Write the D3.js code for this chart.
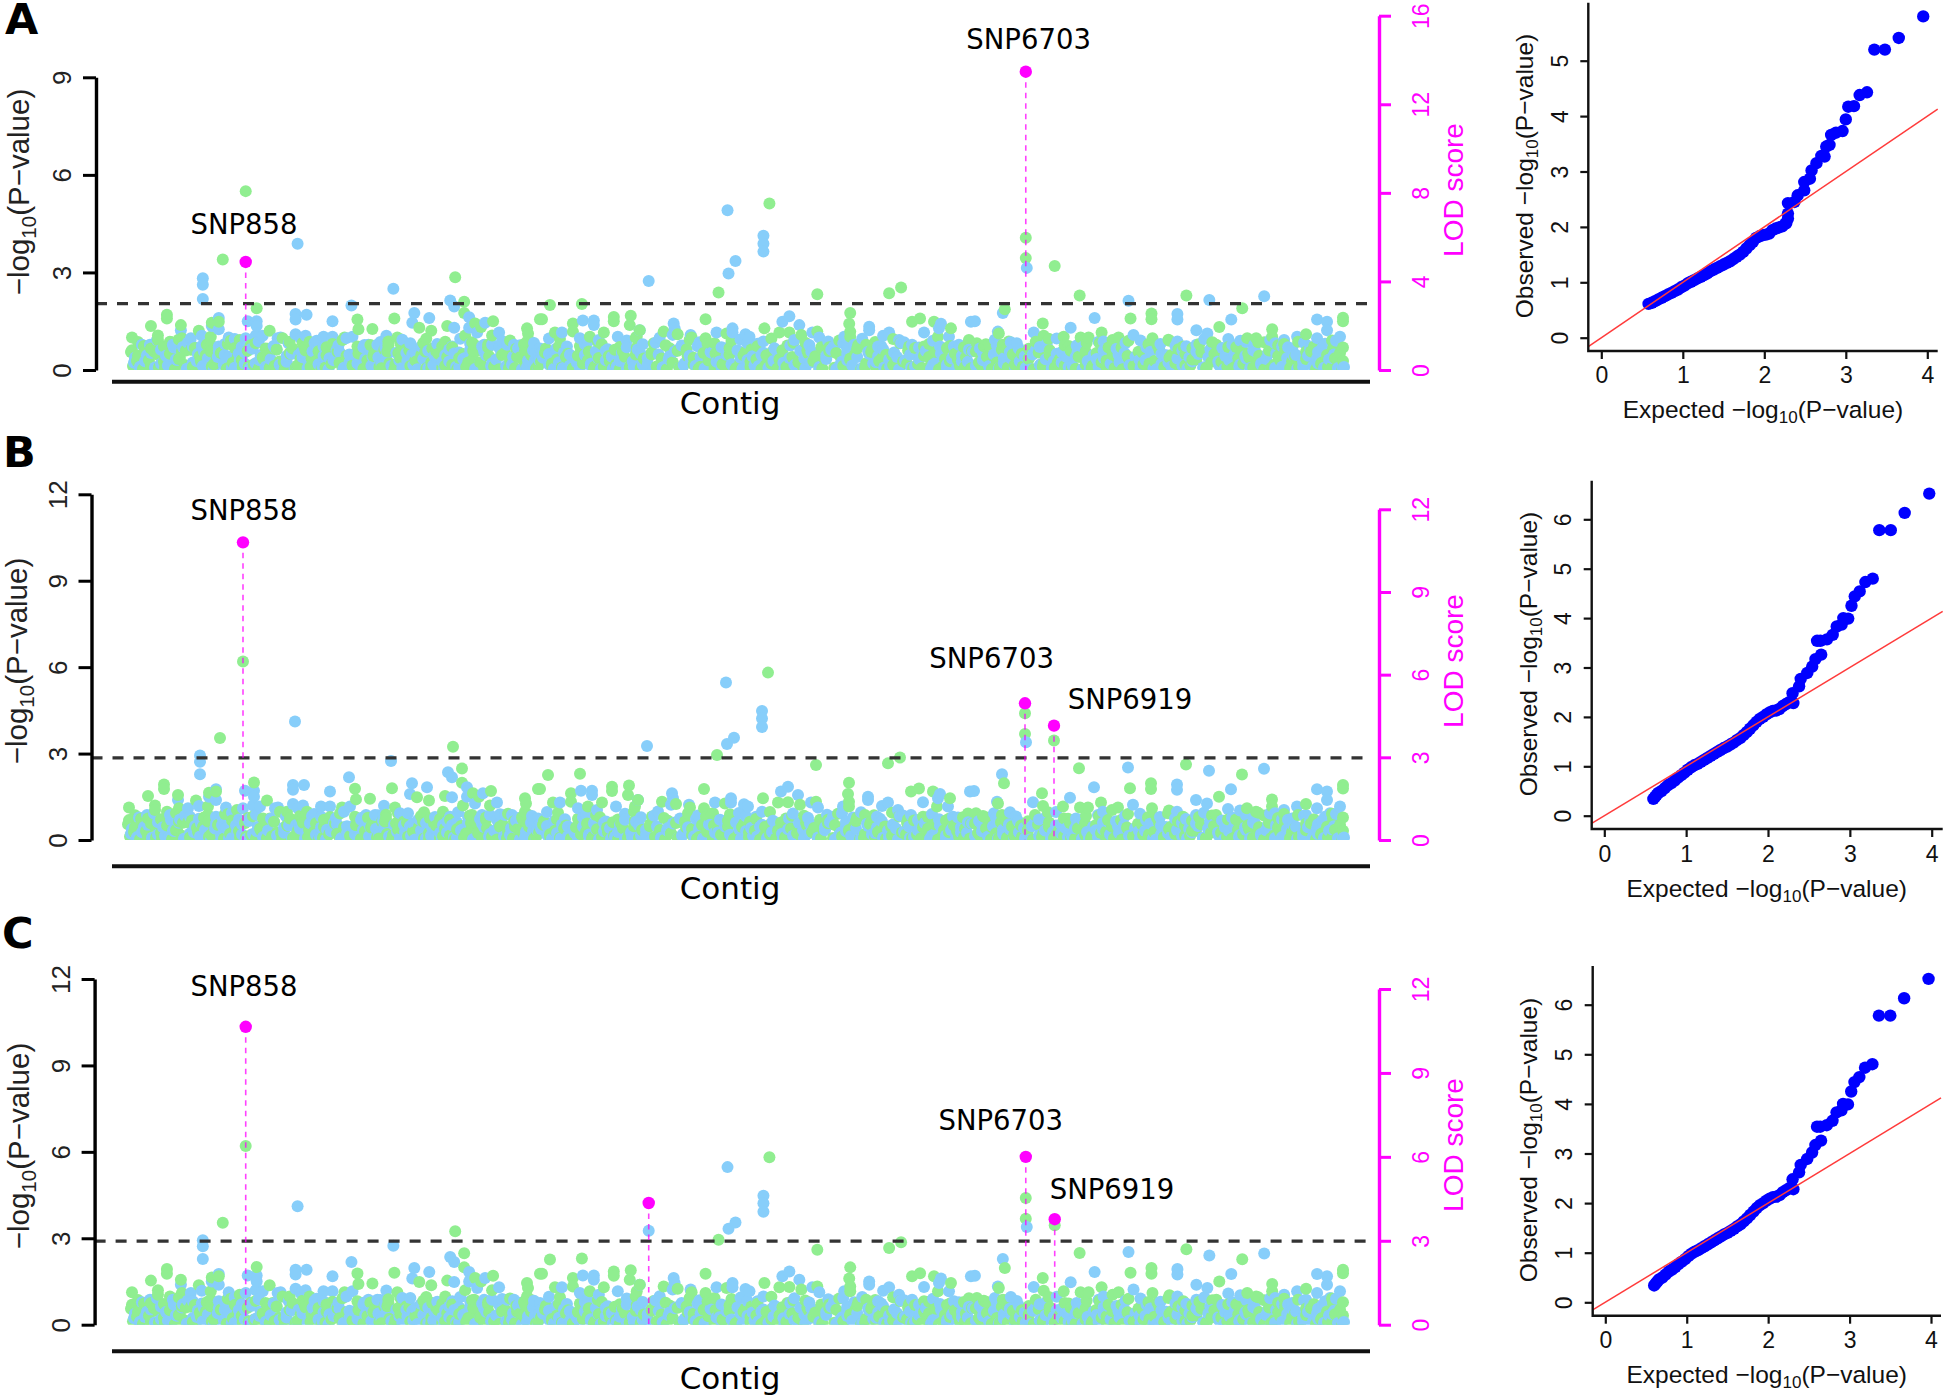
<!DOCTYPE html>
<html><head><meta charset="utf-8">
<script src="https://cdn.jsdelivr.net/npm/d3@7/dist/d3.min.js"></script>
<style>html,body{margin:0;padding:0;background:#fff}svg{display:block}</style>
</head><body><svg id="c" width="1944" height="1397"></svg>
<script>
// Contig-order position of each marker; values per panel.
const bluePos=[167,72,72,72,263,320,324,221,284,282,
299,176,165,165,202,339,339,355,347,324,
50,88,81,88,117,126,126,125,132,150,
147,165,175,170,193,202,193,222,256,280,
238,247,255,19,4,42,60,62,71,88,
98,94,115,115,122,168,322,315,329,354,
362,369,377,384,410,409,285,242,519,634,
634,634,606,599,660,653,670,812,810,795,
820,740,740,760,754,770,453,464,464,510,
432,544,545,543,488,587,603,603,616,620,
634,683,690,561,450,469,715,714,705,749,
783,825,842,898,874,846,869,1000,1081,1136,
966,1049,1049,1103,1068,1079,1100,1189,1199,1199,
1189,1212,1169,1156,905,942,882,1005,975,1049,
1068,1112,1147,1164,1178,1202,1165,1189,598];
const blueB=[4.11,2.93,2.72,2.28,2.74,2.35,2.18,2.18,1.97,1.60,
1.83,1.91,1.91,1.74,1.68,1.83,1.50,1.62,1.27,1.48,
1.39,1.76,1.50,1.39,1.71,1.71,1.50,1.20,1.16,1.13,
1.10,1.25,1.20,1.10,1.16,1.16,.81,1.16,1.19,.93,
.87,.87,.87,.87,.35,.87,1.10,.81,1.18,.81,
1.13,.52,1.10,.64,.75,.52,.81,.52,.61,.87,
.87,1.30,.87,.87,.75,.35,.58,.46,3.26,4.48,
4.22,3.92,3.55,3.33,1.85,1.68,1.56,1.60,1.45,1.31,
1.16,1.50,1.39,1.30,1.18,1.04,1.71,1.71,1.56,1.39,
1.30,1.62,1.45,1.22,1.16,1.30,1.45,1.30,1.24,1.16,
.98,1.30,1.13,1.22,1.10,1.04,1.16,.93,.81,.81,
.87,.81,1.68,3.39,2.28,1.70,1.33,2.52,2.40,2.47,
1.83,1.93,1.74,1.76,1.39,1.27,1.08,1.76,1.68,1.39,
1.10,1.16,1.16,1.04,1.31,1.47,.96,1.22,.98,.98,
.87,1.02,.93,.75,.87,.93,.52,.40,5.47];
const blueA=[3.88,2.82,2.62,2.18,2.50,2.14,1.95,1.98,1.75,1.45,
1.60,1.70,1.72,1.55,1.50,1.62,1.30,1.45,1.15,1.30,
1.22,1.60,1.35,1.25,1.50,1.50,1.35,1.05,1.05,1.00,
.98,1.10,1.05,.98,1.02,1.02,.72,1.02,1.05,.82,
.78,.78,.78,.78,.32,.78,.98,.72,1.05,.72,
1.00,.46,.98,.57,.66,.46,.72,.46,.54,.78,
.78,1.15,.78,.78,.66,.31,.52,.41,2.74,4.13,
3.88,3.64,3.35,2.97,1.65,1.48,1.38,1.42,1.28,1.15,
1.02,1.33,1.22,1.15,1.05,.92,1.52,1.52,1.38,1.22,
1.15,1.43,1.28,1.08,1.02,1.15,1.28,1.15,1.10,1.02,
.88,1.15,1.00,1.08,.98,.92,1.02,.82,.72,.72,
.78,.72,1.48,3.14,1.75,1.50,1.18,2.13,2.15,2.27,
1.60,1.72,1.55,1.55,1.22,1.12,.95,1.55,1.48,1.22,
.98,1.02,1.02,.92,1.15,1.30,.85,1.08,.88,.88,
.78,.90,.82,.66,.78,.82,.46,.36,4.91];

const greenPos=[92,325,334,126,36,36,227,228,264,334,
363,345,351,335,317,410,397,398,289,301,
242,20,50,68,81,88,139,1,1,179,
214,267,270,227,27,27,20,14,39,51,
52,51,80,80,80,97,109,142,135,159,
162,315,302,295,344,362,397,395,387,257,
268,115,589,688,760,772,420,452,721,720,
721,721,791,783,805,822,484,484,501,500,
510,507,443,443,425,412,534,548,474,576,
597,635,650,660,672,688,562,576,585,460,
737,795,809,835,640,897,897,926,876,870,
951,1058,1114,1091,1215,1215,1178,1144,1144,914,
915,935,973,952,960,848,874,855,990,984,
1024,1041,1055,1088,1119,1130,1156,1215,1215,1205,
1002,1023,1023];
const greenB=[3.54,3.24,2.48,2.00,1.93,1.77,1.78,1.41,1.80,1.99,
1.70,1.62,1.50,1.20,1.53,1.77,1.45,1.27,1.48,1.37,
1.43,1.53,1.56,1.37,1.64,1.68,1.37,1.13,.69,.98,
1.13,1.13,.93,.81,1.20,1.04,.75,.64,.98,1.10,
.87,.64,1.16,.87,.64,.90,1.04,.75,.75,.98,
.75,.98,.75,.64,.87,1.20,.98,.69,.46,.64,
.58,6.20,2.95,2.60,2.66,2.86,2.26,2.30,1.99,1.60,
1.33,1.16,1.79,1.68,1.68,1.45,1.85,1.70,1.89,1.56,
1.39,1.16,1.62,1.33,1.30,1.77,1.33,1.25,1.30,1.77,
1.27,1.45,1.30,1.31,1.22,1.33,1.13,1.10,.93,1.16,
.87,.81,1.16,.79,5.81,4.40,3.68,3.45,1.97,1.27,
2.49,2.62,2.27,1.50,1.91,1.79,1.25,1.41,1.16,1.62,
1.18,1.16,1.30,1.13,1.13,.93,.87,.83,1.13,1.04,
1.10,1.02,.81,.87,1.10,.95,.90,.78,.32,.75,
1.80,1.97,1.77];
const greenA=[3.40,2.85,2.10,1.90,1.70,1.58,1.55,1.25,1.58,1.75,
1.50,1.43,1.32,1.06,1.35,1.56,1.28,1.12,1.30,1.21,
1.26,1.35,1.38,1.21,1.45,1.48,1.21,1.00,.61,.87,
1.00,1.00,.82,.72,1.06,.92,.66,.57,.87,.98,
.78,.57,1.02,.78,.57,.80,.92,.66,.66,.87,
.66,.87,.66,.57,.78,1.06,.87,.61,.41,.57,
.52,5.50,2.38,2.33,2.36,2.54,2.00,2.03,1.75,1.42,
1.18,1.02,1.58,1.48,1.48,1.28,1.63,1.50,1.67,1.38,
1.22,1.02,1.43,1.18,1.15,1.56,1.18,1.10,1.15,1.56,
1.12,1.28,1.15,1.15,1.08,1.18,1.00,.98,.82,1.02,
.78,.72,1.02,.70,5.12,4.07,3.44,3.20,1.87,1.12,
2.29,2.29,1.90,1.32,1.61,1.50,1.10,1.25,1.02,1.43,
1.05,1.02,1.15,1.00,1.00,.82,.78,.73,1.00,.92,
.98,.90,.72,.78,.98,.85,.80,.69,.28,.66,
1.58,1.74,1.56];

// Dense low band near zero, same in all panels at the reading precision of the picture.
const blueLowPos=[3,9,16,24,30,37,45,52,58,66,73,79,87,94,101,108,114,121,129,136,
143,149,156,164,171,178,184,192,199,206,213,219,227,234,241,248,255,262,269,276,
283,291,298,304,312,319,326,333,340,347,354,362,369,376,383,390,397,405,412,419,
426,433,440,447,455,461,468,476,483,490,497,504,511,518,526,533,540,547,554,561,
568,575,582,590,597,604,611,618,625,632,640,647,654,661,668,675,682,690,697,704,
711,718,725,733,740,747,754,761,768,775,782,790,797,804,811,818,825,833,840,847,
854,861,868,875,882,890,897,904,911,918,925,933,940,947,954,961,968,975,982,990,
997,1004,1011,1018,1025,1033,1040,1047,1054,1061,1068,1075,1082,1090,1097,1104,1111,1118,1125,1133,
1140,1147,1154,1161,1168,1175,1182,1190,1197,1204,1210,1214];
const blueLow=[.22,.10,.45,.08,.62,.14,.33,.71,.05,.27,.58,.12,.40,.80,.07,.51,.19,.66,.30,.09,
.74,.16,.43,.06,.55,.24,.83,.11,.36,.60,.04,.48,.20,.77,.13,.39,.68,.08,.29,.52,
.15,.72,.07,.44,.25,.63,.10,.34,.81,.05,.57,.21,.69,.12,.41,.76,.09,.31,.54,.17,
.65,.06,.47,.23,.79,.13,.37,.59,.04,.28,.70,.11,.50,.18,.84,.08,.42,.61,.15,.32,
.73,.05,.53,.26,.67,.10,.38,.82,.14,.46,.07,.60,.22,.75,.12,.35,.56,.09,.44,.70,
.17,.30,.78,.06,.49,.24,.64,.11,.40,.85,.08,.33,.58,.16,.72,.05,.45,.27,.62,.13,
.52,.09,.76,.21,.36,.66,.07,.48,.15,.80,.28,.55,.10,.41,.71,.06,.34,.60,.19,.47,
.83,.12,.31,.69,.05,.50,.23,.74,.14,.39,.57,.08,.64,.26,.43,.78,.11,.35,.61,.16,
.53,.07,.72,.29,.46,.10,.67,.20,.81,.37,.06,.12];
const greenLowPos=[0,6,13,20,27,34,41,48,55,62,69,76,83,90,97,104,111,118,125,132,
139,146,153,160,167,174,181,188,195,202,209,216,223,230,237,244,251,258,265,272,
279,286,293,301,308,315,322,329,336,343,350,358,365,372,379,386,393,401,408,415,
422,429,436,443,451,458,465,472,479,486,493,500,507,514,522,529,536,543,550,557,
564,571,578,586,593,600,607,614,621,628,636,643,650,657,664,671,678,686,693,700,
707,714,721,729,736,743,750,757,764,771,778,786,793,800,807,814,821,829,836,843,
850,857,864,871,878,886,893,900,907,914,921,929,936,943,950,957,964,971,978,986,
993,1000,1007,1014,1021,1029,1036,1043,1050,1057,1064,1071,1078,1086,1093,1100,1107,1114,1121,1129,
1136,1143,1150,1157,1164,1171,1178,1186,1193,1200,1207,1212];
const greenLow=[.55,.28,.74,.12,.47,.06,.85,.34,.60,.09,.42,.78,.18,.52,.05,.68,.31,.11,.82,.39,
.07,.63,.25,.49,.14,.71,.36,.58,.08,.80,.22,.44,.10,.66,.30,.54,.05,.75,.17,.41,
.61,.27,.83,.06,.50,.13,.70,.37,.09,.59,.24,.78,.15,.46,.07,.65,.32,.86,.12,.53,
.20,.72,.40,.05,.62,.29,.11,.79,.43,.16,.57,.08,.69,.35,.48,.13,.76,.23,.06,.64,
.38,.10,.81,.51,.18,.67,.07,.45,.26,.73,.14,.56,.33,.09,.84,.21,.60,.42,.05,.70,
.52,.12,.35,.77,.08,.63,.28,.47,.15,.82,.19,.68,.06,.40,.55,.11,.74,.31,.09,.58,
.24,.79,.44,.07,.66,.16,.50,.34,.87,.10,.61,.22,.75,.05,.41,.57,.13,.83,.29,.06,
.69,.37,.12,.54,.20,.76,.08,.46,.64,.15,.32,.80,.05,.49,.25,.71,.10,.59,.38,.17,
.85,.06,.43,.67,.27,.11,.56,.72,.19,.09,.36,.52];

// Second, denser fill of the band close to zero: one blue and one green marker per place.
const fillPos=[2,7,12,18,23,28,33,39,44,49,54,60,65,70,75,81,86,91,96,102,
107,112,117,123,128,133,138,144,149,154,159,165,170,175,180,186,191,196,201,207,
212,217,222,228,233,238,243,249,254,259,264,270,275,280,285,291,296,301,306,312,
317,322,327,333,338,343,348,354,359,364,369,375,380,385,390,396,401,406,411,417,
422,427,432,438,443,448,453,459,464,469,474,480,485,490,495,501,506,511,516,522,
527,532,537,543,548,553,558,564,569,574,579,585,590,595,600,606,611,616,621,627,
632,637,642,648,653,658,663,669,674,679,684,690,695,700,705,711,716,721,726,732,
737,742,747,753,758,763,768,774,779,784,789,795,800,805,810,816,821,826,831,837,
842,847,852,858,863,868,873,879,884,889,894,900,905,910,915,921,926,931,936,942,
947,952,957,963,968,973,978,984,989,994,999,1005,1010,1015,1020,1026,1031,1036,1041,1047,
1052,1057,1062,1068,1073,1078,1083,1089,1094,1099,1104,1110,1115,1120,1125,1131,1136,1141,1146,1152,
1157,1162,1167,1173,1178,1183,1188,1194,1199,1204,1209,1214];
const fillBlue=[.38,.06,.27,.52,.03,.19,.44,.09,.31,.60,.04,.23,.49,.12,.35,.02,.57,.16,.41,.07,
.29,.54,.05,.21,.46,.10,.33,.63,.03,.25,.50,.14,.39,.06,.58,.18,.43,.02,.30,.55,
.08,.24,.47,.11,.36,.61,.04,.20,.42,.13,.53,.07,.28,.48,.02,.34,.59,.15,.40,.05,
.26,.51,.09,.37,.62,.03,.22,.45,.12,.32,.56,.06,.17,.43,.02,.29,.60,.10,.38,.49,
.04,.24,.54,.14,.35,.07,.46,.19,.58,.03,.30,.41,.11,.52,.05,.27,.63,.16,.36,.02,
.48,.09,.33,.57,.06,.21,.44,.13,.39,.03,.55,.25,.08,.47,.18,.61,.04,.31,.42,.12,
.53,.07,.28,.50,.02,.37,.15,.59,.05,.23,.45,.10,.34,.62,.03,.26,.49,.14,.40,.06,
.56,.20,.43,.08,.32,.54,.02,.29,.47,.11,.38,.60,.04,.22,.51,.16,.35,.07,.44,.25,
.58,.03,.30,.12,.48,.05,.36,.55,.09,.27,.42,.02,.61,.18,.33,.06,.50,.23,.40,.13,
.57,.04,.28,.46,.10,.37,.63,.03,.24,.52,.15,.41,.07,.31,.56,.02,.19,.45,.11,.35,
.60,.05,.26,.49,.08,.39,.53,.14,.03,.30,.47,.17,.43,.06,.58,.21,.34,.02,.51,.10,
.37,.62,.04,.25,.44,.12,.55,.07,.32,.48,.03,.09];
const fillGreen=[.12,.44,.03,.31,.57,.08,.25,.50,.02,.37,.15,.62,.06,.28,.46,.11,.34,.54,.04,.22,
.41,.09,.59,.17,.05,.33,.48,.13,.26,.02,.52,.07,.35,.60,.10,.29,.03,.45,.19,.56,
.06,.38,.14,.51,.04,.27,.43,.09,.63,.21,.02,.36,.55,.12,.30,.47,.05,.24,.58,.08,
.40,.16,.03,.49,.23,.34,.61,.07,.42,.11,.02,.53,.28,.06,.39,.18,.46,.04,.25,.60,
.13,.32,.08,.50,.02,.44,.20,.57,.05,.37,.10,.27,.62,.03,.41,.15,.48,.07,.30,.54,
.11,.35,.02,.23,.59,.09,.43,.17,.04,.52,.29,.06,.38,.13,.47,.03,.26,.56,.10,.33,
.02,.45,.19,.05,.61,.12,.40,.24,.08,.51,.28,.03,.36,.58,.07,.42,.16,.31,.49,.02,
.21,.55,.10,.37,.04,.46,.14,.26,.60,.06,.18,.44,.09,.53,.02,.34,.27,.50,.12,.39,
.05,.57,.15,.41,.03,.23,.62,.08,.48,.30,.11,.36,.02,.54,.20,.45,.07,.33,.13,.59,
.04,.40,.17,.06,.52,.24,.09,.47,.35,.02,.43,.12,.56,.18,.05,.28,.61,.10,.38,.21,
.03,.49,.14,.32,.55,.07,.25,.42,.58,.11,.04,.36,.19,.51,.08,.44,.02,.60,.16,.29,
.53,.06,.41,.12,.34,.57,.03,.23,.46,.09,.31,.05];

// Upper edge of the band: markers around 0.6 to 1.0.
const midBluePos=[11,26,43,57,71,104,111,128,145,158,186,208,216,233,250,272,290,307,330,352,
372,388,404,419,437,458,478,497,513,530,552,570,592,611,628,645,665,680,699,718,
733,752,772,790,804,830,851,866,888,911,928,948,970,988,1012,1032,1058,1076,1094,1118,
1126,1142,1160,1176,1194,1208];
const midBlue=[.78,.92,.69,.84,.74,.95,.71,.88,.66,.82,.90,.76,.98,.70,.86,.93,.68,.80,.96,.73,
.89,.67,.83,.97,.72,.87,.64,.91,.79,.99,.75,.85,.70,.94,.81,.67,.92,.77,.88,.63,
.96,.74,.84,.69,.90,.78,.66,.93,.82,.71,.97,.75,.87,.65,.91,.80,.73,.95,.68,.86,
.78,.92,.70,.84,.66,.90];
const midGreenPos=[7,33,48,64,78,100,120,137,152,172,196,212,240,258,276,296,312,342,358,380,
394,416,430,450,468,490,506,524,540,560,582,602,622,642,658,676,692,710,728,746,
764,780,800,818,840,860,880,900,920,940,958,980,1000,1020,1040,1064,1084,1108,1128,1150,
1170,1186,1204];
const midGreen=[.86,.72,.94,.68,.81,.90,.76,.65,.98,.83,.70,.92,.77,.88,.64,.96,.73,.85,.69,.91,
.79,.66,.95,.74,.87,.71,.99,.82,.67,.93,.78,.89,.63,.97,.75,.84,.70,.91,.66,.86,
.95,.72,.80,.68,.92,.77,.88,.65,.96,.74,.83,.69,.90,.79,.93,.67,.85,.71,.98,.76,
.87,.64,.91];

// Highlighted markers per panel, LOD-score values.
const peaksAPos=[115,897], peaksALod=[4.88,13.47];
const peaksBPos=[115,897,926], peaksBLod=[10.8,4.96,4.15];
const peaksCPos=[115,519,897,926], peaksCLod=[10.65,4.35,6.0,3.77];

// Q-Q plots (B and C share the same values).
const qqAExpected=[.58,.62,.66,.70,.74,.78,.82,.86,.90,.94,.98,1.02,1.06,1.10,1.14,1.18,1.22,1.26,1.30,1.34,1.38,1.42,1.46,1.50,1.54,1.58,1.62,1.66,1.70,1.74,1.78,1.82,1.86,1.90,1.94,1.98,2.02,2.06,2.10,2.14,2.18,2.22,2.26,2.29,2.27,2.29,2.29,2.37,2.41,2.49,2.49,2.56,2.58,2.64,2.70,2.74,2.76,2.80,2.82,2.88,2.96,3.00,3.03,3.10,3.17,3.26,3.35,3.48,3.65,3.95];
const qqAObserved=[.61,.63,.66,.69,.72,.75,.78,.81,.84,.87,.91,.94,.98,1.01,1.04,1.07,1.10,1.13,1.16,1.20,1.23,1.26,1.29,1.32,1.35,1.38,1.42,1.46,1.50,1.55,1.61,1.67,1.73,1.80,1.83,1.85,1.86,1.88,1.94,1.97,1.99,2.01,2.06,2.15,2.07,2.24,2.43,2.45,2.57,2.66,2.81,2.87,3.02,3.15,3.28,3.27,3.45,3.48,3.66,3.70,3.73,3.94,4.17,4.18,4.38,4.43,5.20,5.20,5.41,5.80];
const qqBExpected=[.60,.62,.64,.66,.70,.74,.78,.82,.86,.90,.94,.98,1.02,1.06,1.10,1.14,1.18,1.22,1.26,1.30,1.34,1.38,1.42,1.46,1.50,1.54,1.58,1.62,1.66,1.70,1.74,1.78,1.82,1.86,1.90,1.94,1.98,2.02,2.06,2.10,2.14,2.18,2.22,2.26,2.31,2.30,2.38,2.40,2.48,2.54,2.58,2.65,2.60,2.64,2.72,2.79,2.84,2.90,2.92,2.98,3.02,3.06,3.12,3.19,3.28,3.36,3.50,3.67,3.97];
const qqBObserved=[.34,.38,.42,.46,.50,.56,.62,.66,.71,.77,.82,.87,.93,.98,1.02,1.05,1.09,1.13,1.17,1.21,1.25,1.29,1.33,1.37,1.40,1.44,1.48,1.53,1.57,1.63,1.69,1.76,1.83,1.90,1.96,2.00,2.05,2.09,2.12,2.13,2.16,2.22,2.26,2.30,2.28,2.48,2.62,2.77,2.89,3.02,3.17,3.26,3.54,3.54,3.57,3.66,3.83,3.87,4.00,3.99,4.25,4.44,4.54,4.73,4.80,5.78,5.78,6.13,6.52];

const manTicksA=[0,3,6,9], manTicksBC=[0,3,6,9,12];
const lodTicksA=[0,4,8,12,16], lodTicksBC=[0,3,6,9,12];
const snpLabels=["SNP858","SNP6703","SNP6919"];

const blue="#87CEFA", green="#90EE90", mag="#FF00FF";
const sans="'Liberation Sans',Arial,sans-serif", dv="'DejaVu Sans',Verdana,sans-serif";
const svg=d3.select("#c");

function logLabel(sel,prefix,fs,sub){
  if(prefix) sel.append("tspan").text(prefix+" ");
  sel.append("tspan").text("\u2212log");
  sel.append("tspan").attr("font-size",sub).attr("dy",fs*0.22).text("10");
  sel.append("tspan").attr("dy",-fs*0.22).text("(P\u2212value)");
}

const merged=(valBlue,valGreen)=>[
  ...fillPos.map((p,i)=>({p:p+2,c:blue,v:fillBlue[i]})),
  ...fillPos.map((p,i)=>({p,c:green,v:fillGreen[i]})),
  ...midBluePos.map((p,i)=>({p,c:blue,v:midBlue[i]})),
  ...midGreenPos.map((p,i)=>({p,c:green,v:midGreen[i]})),
  ...bluePos.map((p,i)=>({p,c:blue,v:valBlue[i]})),
  ...greenPos.map((p,i)=>({p,c:green,v:valGreen[i]})),
  ...blueLowPos.map((p,i)=>({p,c:blue,v:blueLow[i]})),
  ...greenLowPos.map((p,i)=>({p,c:green,v:greenLow[i]}))
].sort((a,b)=>d3.ascending(a.p,b.p));

const manhattan=[
 {id:"A",lx:5,ly:34,pts:merged(blueA,greenA),peaks:peaksAPos.map((p,i)=>({p,l:peaksALod[i]})),
  xr:[131,1342.5],axX:96,y0:370,yMax:9,yTop:77.3,ticks:manTicksA,thr:2.04,
  lodMax:16,lodTop:15.7,lodTicks:lodTicksA,base:381.7,cy:414,ylabY:192,ylabX:29,lodY:190,
  labs:[[snpLabels[0],244,234],[snpLabels[1],1028.6,49.3]]},
 {id:"B",lx:3,ly:466.7,pts:merged(blueB,greenB),peaks:peaksBPos.map((p,i)=>({p,l:peaksBLod[i]})),
  xr:[128,1342.5],axX:91.5,y0:840,yMax:12,yTop:494.3,ticks:manTicksBC,thr:2.85,
  lodMax:12,lodTop:509.3,lodTicks:lodTicksBC,base:866.3,cy:899,ylabY:661,ylabX:27,lodY:661,
  labs:[[snpLabels[0],244,520],[snpLabels[1],991.6,668.3],[snpLabels[2],1130,709.3]]},
 {id:"C",lx:2,ly:947.7,pts:merged(blueB,greenB),peaks:peaksCPos.map((p,i)=>({p,l:peaksCLod[i]})),
  xr:[131,1342.5],axX:94.6,y0:1324.7,yMax:12,yTop:979,ticks:manTicksBC,thr:2.9,
  lodMax:12,lodTop:989,lodTicks:lodTicksBC,base:1351.3,cy:1389,ylabY:1146,ylabX:29,lodY:1145,
  labs:[[snpLabels[0],244,996],[snpLabels[1],1000.8,1130],[snpLabels[2],1112,1199.3]]}
];

manhattan.forEach(P=>{
  const g=svg.append("g");
  const x=d3.scaleLinear().domain([0,1214.5]).range(P.xr);
  const y=d3.scaleLinear().domain([0,P.yMax]).range([P.y0,P.yTop]);
  const lod=d3.scaleLinear().domain([0,P.lodMax]).range([P.y0,P.lodTop]);
  const rightX=1379;
  g.append("clipPath").attr("id","clip"+P.id).append("rect").attr("x",0).attr("y",0).attr("width",1944).attr("height",P.y0);
  const dots=g.append("g").attr("clip-path",`url(#clip${P.id})`);
  dots.selectAll("circle").data(P.pts).join("circle")
    .attr("cx",d=>x(d.p)).attr("cy",d=>y(d.v)).attr("r",6).attr("fill",d=>d.c);
  // threshold
  g.append("line").attr("x1",P.axX).attr("x2",rightX-8).attr("y1",y(P.thr)).attr("y2",y(P.thr))
    .attr("stroke","#333").attr("stroke-width",3.2).attr("stroke-dasharray","11 10");
  // peaks
  g.selectAll(".stem").data(P.peaks).join("line").attr("x1",d=>x(d.p)).attr("x2",d=>x(d.p))
    .attr("y1",d=>lod(d.l)).attr("y2",P.y0).attr("stroke",mag).attr("stroke-opacity",.75)
    .attr("stroke-width",1.6).attr("stroke-dasharray","5.5 5");
  g.selectAll(".pk").data(P.peaks).join("circle").attr("cx",d=>x(d.p)).attr("cy",d=>lod(d.l)).attr("r",6.2).attr("fill",mag);
  // left axis
  const la=g.append("g").attr("transform",`translate(${P.axX},0)`)
    .call(d3.axisLeft(y).tickValues(P.ticks).tickSize(13).tickSizeOuter(0).tickFormat(d3.format("d")));
  la.select(".domain").attr("stroke","#000").attr("stroke-width",3.4);
  la.selectAll(".tick line").attr("stroke","#000").attr("stroke-width",3);
  la.selectAll(".tick text").attr("x",null).attr("dy",null).attr("y",null).attr("transform","translate(-25,0) rotate(-90)")
    .attr("text-anchor","middle").attr("font-family",sans).attr("font-size",26).attr("fill","#222");
  // right axis
  const ra=g.append("g").attr("transform",`translate(${rightX},0)`)
    .call(d3.axisRight(lod).tickValues(P.lodTicks).tickSize(12).tickSizeOuter(0).tickFormat(d3.format("d")));
  ra.select(".domain").attr("stroke",mag).attr("stroke-width",3.4);
  ra.selectAll(".tick line").attr("stroke",mag).attr("stroke-width",3);
  ra.selectAll(".tick text").attr("x",null).attr("dy",null).attr("y",null).attr("transform","translate(50,0) rotate(-90)")
    .attr("text-anchor","middle").attr("font-family",sans).attr("font-size",23).attr("fill",mag);
  // baseline bar + labels
  g.append("line").attr("x1",112).attr("x2",1370).attr("y1",P.base).attr("y2",P.base).attr("stroke","#111").attr("stroke-width",4);
  g.append("text").attr("x",730).attr("y",P.cy).attr("text-anchor","middle").attr("font-family",dv).attr("font-size",31).attr("fill","#000").text("Contig");
  const yl=g.append("text").attr("transform",`translate(${P.ylabX},${P.ylabY}) rotate(-90)`).attr("text-anchor","middle")
    .attr("font-family",sans).attr("font-size",29.5).attr("fill","#222");
  logLabel(yl,"",29.5,20.5);
  g.append("text").attr("transform",`translate(1463,${P.lodY}) rotate(-90)`).attr("text-anchor","middle")
    .attr("font-family",sans).attr("font-size",28).attr("fill",mag).text("LOD score");
  g.selectAll(".snp").data(P.labs).join("text").attr("x",d=>d[1]).attr("y",d=>d[2]).attr("text-anchor","middle")
    .attr("font-family",dv).attr("font-size",27.5).attr("fill","#000").text(d=>d[0]);
  g.append("text").attr("x",P.lx).attr("y",P.ly).attr("font-family",dv).attr("font-weight","bold").attr("font-size",43).attr("fill","#000").text(P.id);
});

const qqs=[
 {e:qqAExpected,o:qqAObserved,axX:1588.3,axY:351,top:2.7,right:1937.7,x0:1601.3,x4:1927.3,y0:337.7,yRefV:5,yRef:60.7,yTicks:[0,1,2,3,4,5],
  xLab:383,yLab:1567.7,xTitleX:1763,xTitleY:418,yTitleX:1533,yTitleY:176},
 {e:qqBExpected,o:qqBObserved,axX:1591.7,axY:829,top:480.7,right:1942.7,x0:1604.3,x4:1931.7,y0:815.7,yRefV:6,yRef:519.3,yTicks:[0,1,2,3,4,5,6],
  xLab:861.7,yLab:1570.7,xTitleX:1766.7,xTitleY:896.7,yTitleX:1536.7,yTitleY:654},
 {e:qqBExpected,o:qqBObserved,axX:1592.7,axY:1315.7,top:966,right:1941,x0:1605.3,x4:1931,y0:1302.3,yRefV:6,yRef:1004.7,yTicks:[0,1,2,3,4,5,6],
  xLab:1348,yLab:1571.7,xTitleX:1766.7,xTitleY:1383,yTitleX:1537,yTitleY:1140}
];
const xTicksQQ=[0,1,2,3,4];
qqs.forEach(Q=>{
  const g=svg.append("g");
  const x=d3.scaleLinear().domain([0,4]).range([Q.x0,Q.x4]);
  const y=d3.scaleLinear().domain([0,Q.yRefV]).range([Q.y0,Q.yRef]);
  g.selectAll("circle").data(Q.e.map((v,i)=>[v,Q.o[i]])).join("circle")
    .attr("cx",d=>x(d[0])).attr("cy",d=>y(d[1])).attr("r",6.2).attr("fill","#0000FF");
  const loV=x.invert(Q.axX), hiV=x.invert(Q.right);
  g.append("line").attr("x1",x(loV)).attr("y1",y(loV)).attr("x2",x(hiV)).attr("y2",y(hiV)).attr("stroke","#FF3B3B").attr("stroke-width",1.5);
  // axes
  const xa=g.append("g").attr("transform",`translate(0,${Q.axY})`).call(d3.axisBottom(x).tickValues(xTicksQQ).tickSize(8).tickSizeOuter(0).tickFormat(d3.format("d")));
  xa.select(".domain").remove();
  xa.selectAll(".tick line").attr("stroke","#111").attr("stroke-width",2.2);
  xa.selectAll(".tick text").attr("y",Q.xLab-Q.axY).attr("dy",null).attr("font-family",sans).attr("font-size",23).attr("fill","#111").attr("text-anchor","middle");
  const ya=g.append("g").attr("transform",`translate(${Q.axX},0)`).call(d3.axisLeft(y).tickValues(Q.yTicks).tickSize(8).tickSizeOuter(0).tickFormat(d3.format("d")));
  ya.select(".domain").remove();
  ya.selectAll(".tick line").attr("stroke","#111").attr("stroke-width",2.2);
  ya.selectAll(".tick text").attr("x",null).attr("y",null).attr("dy",null).attr("transform",`translate(${Q.yLab-Q.axX},0) rotate(-90)`)
    .attr("text-anchor","middle").attr("font-family",sans).attr("font-size",23).attr("fill","#111");
  g.append("path").attr("d",`M${Q.axX},${Q.top}V${Q.axY}H${Q.right}`).attr("fill","none").attr("stroke","#111").attr("stroke-width",2.4);
  const xt=g.append("text").attr("x",Q.xTitleX).attr("y",Q.xTitleY).attr("text-anchor","middle").attr("font-family",sans).attr("font-size",24.5).attr("fill","#111");
  logLabel(xt,"Expected",24.5,17);
  const yt=g.append("text").attr("transform",`translate(${Q.yTitleX},${Q.yTitleY}) rotate(-90)`).attr("text-anchor","middle").attr("font-family",sans).attr("font-size",24.5).attr("fill","#111");
  logLabel(yt,"Observed",24.5,17);
});
</script></body></html>
